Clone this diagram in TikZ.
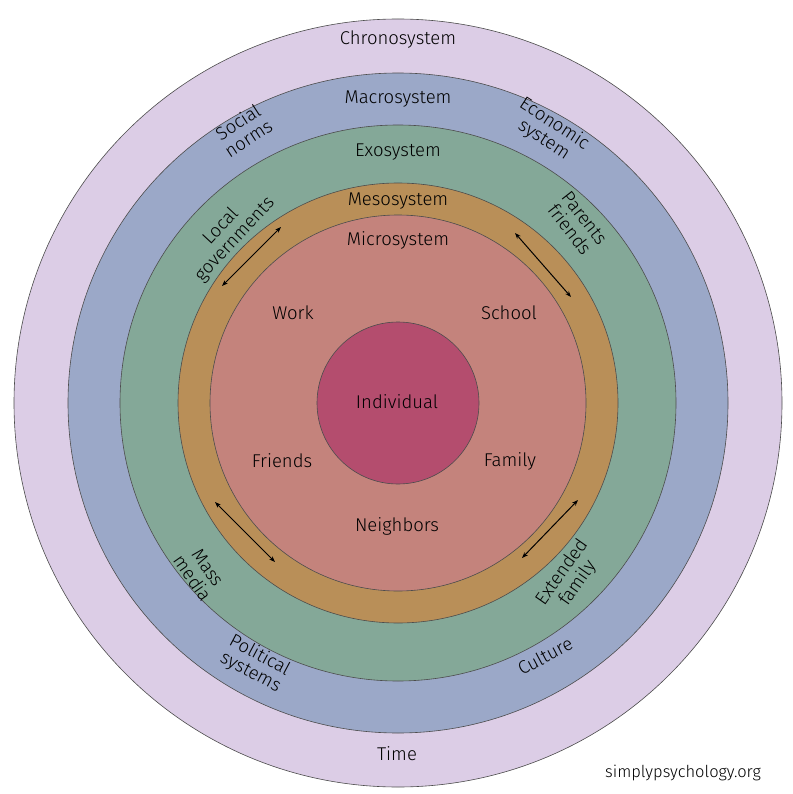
\documentclass[tikz,border=0pt]{standalone}
\usepackage{fontspec}
\setmainfont{Fira Sans Light}
\usetikzlibrary{arrows.meta}
\definecolor{chrono}{HTML}{DCCDE6}
\definecolor{macro}{HTML}{9BA8C8}
\definecolor{exo}{HTML}{84A898}
\definecolor{meso}{HTML}{B98F58}
\definecolor{micro}{HTML}{C4837C}
\definecolor{indiv}{HTML}{B44D6E}
\begin{document}
\begin{tikzpicture}[x=1pt,y=-1pt,
  ring/.style={circle,draw=black!70,line width=0.6pt,inner sep=0pt},
  lbl/.style={font=\fontsize{18.5}{19}\selectfont,align=center,text=black,inner sep=0pt},
  arr/.style={{Stealth[length=6pt]}-{Stealth[length=6pt]},line width=1pt}]
\useasboundingbox (0,0) rectangle (792,794);
\fill[white] (0,0) rectangle (792,794);
\node[ring,fill=chrono,minimum size=768pt] (chr) at (398,403) {};
\node[ring,fill=macro,minimum size=660pt] (mac) at (398,403) {};
\node[ring,fill=exo,minimum size=556pt] (exo) at (398,403) {};
\node[ring,fill=meso,minimum size=440pt] (mes) at (398,403) {};
\node[ring,fill=micro,minimum size=376pt] (mic) at (398,403) {};
\node[ring,fill=indiv,minimum size=162pt] (ind) at (398,403) {};
\node[lbl] (tind) at (397,402) {Individual};
\node[lbl] (tchr) at (398,40) {Chronosystem};
\node[lbl] (tmac) at (398,99) {Macrosystem};
\node[lbl] (texo) at (398,152) {Exosystem};
\node[lbl] (tmes) at (398,201) {Mesosystem};
\node[lbl] (tmic) at (398,240) {Microsystem};
\node[lbl] (work) at (293,313) {Work};
\node[lbl] (school) at (509,313) {School};
\node[lbl] (friends) at (282,461) {Friends};
\node[lbl] (family) at (510,461) {Family};
\node[lbl] (neigh) at (397,526) {Neighbors};
\node[lbl] (time) at (397,754) {Time};
\node[lbl,rotate=33] (soc) at (243,130) {Social\\norms};
\node[lbl,rotate=-33] (eco) at (549,132) {Economic\\system};
\node[lbl,rotate=47] (loc) at (228,233) {Local\\governments};
\node[lbl,rotate=-52] (par) at (577,224) {Parents\\friends};
\node[lbl,rotate=-55] (mass) at (200,573) {Mass\\media};
\node[lbl,rotate=55] (ext) at (570,578) {Extended\\family};
\node[lbl,rotate=-28] (pol) at (255,664) {Political\\systems};
\node[lbl,rotate=28] (cul) at (545,656) {Culture};
\node[lbl,font=\fontsize{16.5}{17}\selectfont] (web) at (683,773) {simplypsychology.org};
\coordinate (a1) at (222,286); \coordinate (a2) at (281,227);
\coordinate (b1) at (515,233); \coordinate (b2) at (571,297);
\coordinate (c1) at (215,502); \coordinate (c2) at (275,562);
\coordinate (d1) at (522,558); \coordinate (d2) at (578,500);
\draw[arr] (a1) -- (a2);
\draw[arr] (b1) -- (b2);
\draw[arr] (c1) -- (c2);
\draw[arr] (d1) -- (d2);
\end{tikzpicture}
\end{document}
